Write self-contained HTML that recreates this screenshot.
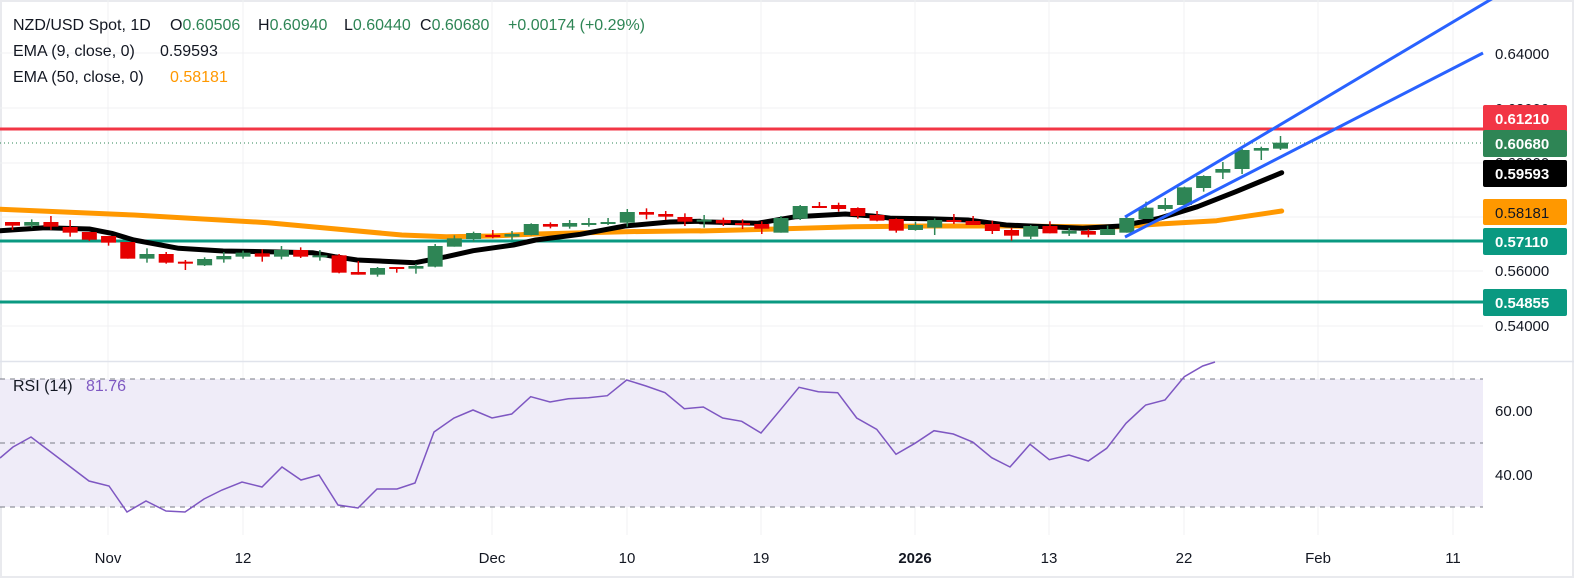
<!DOCTYPE html>
<html><head><meta charset="utf-8">
<style>
html,body{margin:0;padding:0;background:#fff;}
body{width:1574px;height:578px;overflow:hidden;font-family:"Liberation Sans",sans-serif;}
svg text{font-family:"Liberation Sans",sans-serif;}
</style></head>
<body>
<svg id="s" width="1574" height="578" xmlns="http://www.w3.org/2000/svg">
<rect x="0" y="0" width="1574" height="578" fill="#fff"/>
<rect x="0.5" y="0.5" width="1573" height="577" fill="none" stroke="#e9eaee" stroke-width="3"/>
<g id="grid" stroke="#f0f1f3" stroke-width="1"></g>
<rect x="0" y="379" width="1483" height="128" fill="#efecf8"/>
<g stroke="#787b86" stroke-width="1" stroke-dasharray="5,5">
<line x1="0" y1="379" x2="1483" y2="379"/>
<line x1="0" y1="443" x2="1483" y2="443"/>
<line x1="0" y1="507" x2="1483" y2="507"/>
</g>
<line x1="0" y1="361.5" x2="1574" y2="361.5" stroke="#e0e3eb" stroke-width="1.5"/>
<line x1="0" y1="143" x2="1483" y2="143" stroke="#2e8555" stroke-width="1" stroke-dasharray="1,3"/>
<line x1="0" y1="129" x2="1483" y2="129" stroke="#f23645" stroke-width="3"/>
<line x1="0" y1="241" x2="1483" y2="241" stroke="#0a9981" stroke-width="3"/>
<line x1="0" y1="302" x2="1483" y2="302" stroke="#0a9981" stroke-width="3"/>
<g id="ema"></g>
<g id="candles"></g>
<line x1="1125" y1="217" x2="1500" y2="-6" stroke="#2962ff" stroke-width="3"/>
<line x1="1125" y1="237" x2="1483" y2="53" stroke="#2962ff" stroke-width="3"/>
<g id="rsi"></g>
<g font-size="16" fill="#131722">
<text x="13" y="30">NZD/USD Spot, 1D</text>
<text x="170" y="30">O<tspan fill="#2e8555">0.60506</tspan></text>
<text x="258" y="30">H<tspan fill="#2e8555">0.60940</tspan></text>
<text x="344" y="30">L<tspan fill="#2e8555">0.60440</tspan></text>
<text x="420" y="30">C<tspan fill="#2e8555">0.60680</tspan></text>
<text x="508" y="30" fill="#2e8555">+0.00174 (+0.29%)</text>
<text x="13" y="56">EMA (9, close, 0)</text>
<text x="160" y="56">0.59593</text>
<text x="13" y="82">EMA (50, close, 0)</text>
<text x="170" y="82" fill="#ff9800">0.58181</text>
<text x="13" y="391">RSI (14)</text>
<text x="86" y="391" fill="#7e57c2">81.76</text>
</g>
<g font-size="15" fill="#131722">
<text x="1495" y="59">0.64000</text>
<text x="1495" y="114">0.62000</text>
<text x="1495" y="168">0.60000</text>
<text x="1495" y="276">0.56000</text>
<text x="1495" y="331">0.54000</text>
<text x="1495" y="416">60.00</text>
<text x="1495" y="480">40.00</text>
</g>
<g font-size="15" font-weight="bold">
<rect x="1483" y="105" width="84" height="27" rx="2" fill="#f23645"/><text x="1495" y="124" fill="#fff">0.61210</text>
<rect x="1483" y="130" width="84" height="27" rx="2" fill="#2e8555"/><text x="1495" y="149" fill="#fff">0.60680</text>
<rect x="1483" y="160" width="84" height="27" rx="2" fill="#000"/><text x="1495" y="179" fill="#fff">0.59593</text>
<rect x="1483" y="199" width="84" height="26" rx="2" fill="#ff9800"/><text x="1495" y="218" fill="#131722" font-weight="normal">0.58181</text>
<rect x="1483" y="228" width="84" height="27" rx="2" fill="#0a9981"/><text x="1495" y="247" fill="#fff">0.57110</text>
<rect x="1483" y="289" width="84" height="27" rx="2" fill="#0a9981"/><text x="1495" y="308" fill="#fff">0.54855</text>
</g>
<g id="dates" font-size="15" fill="#131722" text-anchor="middle"></g>
</svg>
<script>
var NS="http://www.w3.org/2000/svg";
function el(p,t,a){var e=document.createElementNS(NS,t);for(var k in a)e.setAttribute(k,a[k]);p.appendChild(e);return e;}
var grid=document.getElementById('grid');
[53,108,163,217,271,326,411,475].forEach(function(y){el(grid,'line',{x1:0,y1:y,x2:1483,y2:y});});
var vx=[108,243,492,627,761,915,1049,1184,1318,1453];
var dl=["Nov","12","Dec","10","19","2026","13","22","Feb","11"];
var dates=document.getElementById('dates');
vx.forEach(function(x,i){el(grid,'line',{x1:x,y1:0,x2:x,y2:535});var t=el(dates,'text',{x:x,y:563});t.textContent=dl[i];if(dl[i]=="2026")t.setAttribute('font-weight','bold');});
var z1=[[126,137,126,150,'r'],[126,137,118,143,'g'],[126,140,108,150,'r'],[141,158,120,170,'r'],[156,179,156,183,'r'],[168,188,168,197,'r'],[186,236,186,236,'r'],[222,236,205,248,'g'],[222,248,216,251,'r'],[245,247,240,270,'r'],[237,256,232,258,'g'],[228,238,216,248,'g'],[218,230,212,236,'g'],[220,230,208,245,'r'],[210,230,198,238,'g'],[210,230,202,234,'r'],[226,229,210,242,'g'],[226,278,222,280,'r'],[276,284,243,284,'r'],[264,284,261,290,'g'],[261,263,262,278,'r'],[258,266,252,281,'g'],[198,260,192,262,'g'],[175,200,166,200,'g'],[159,177,155,185,'g'],[165,171,150,175,'r'],[162,170,153,180,'g'],[132,165,130,166,'g'],[132,140,127,145,'r'],[129,140,120,146,'g'],[129,134,114,140,'g'],[126,128,114,135,'g'],[96,128,87,140,'g'],[96,104,85,118,'r'],[102,110,93,120,'r'],[111,125,100,138,'r']];
var z2=[[359,361,345,383,'g'],[360,370,353,378,'r'],[369,371,358,387,'r'],[372,386,364,402,'r'],[354,398,348,398,'g'],[318,356,315,360,'g'],[318,323,306,323,'r'],[315,327,308,335,'r'],[324,348,322,356,'r'],[345,362,333,364,'r'],[357,392,355,398,'r'],[375,390,365,392,'g'],[360,383,355,405,'g'],[360,366,342,372,'r'],[363,375,348,375,'r'],[372,393,362,402,'r'],[390,407,384,422,'r'],[378,410,375,417,'g'],[378,400,364,400,'r'],[392,401,384,408,'g'],[393,404,388,412,'r'],[387,405,377,405,'g'],[354,398,352,398,'g'],[323,357,305,357,'g'],[315,327,294,332,'g'],[262,315,260,317,'g'],[228,264,226,275,'g'],[207,218,186,237,'g'],[150,207,147,222,'g'],[144,152,140,180,'g'],[128,146,108,150,'g']];
var C=document.getElementById('candles');
var step=(1280.5-12.5)/66;
function drawC(arr,off,o){arr.forEach(function(c,j){var i=j+off;var x=12.5+i*step;var col=c[4]=='g'?'#2e8555':'#e60000';
var bt=o+c[0]/3,bb=o+c[1]/3,wt=o+c[2]/3,wb=o+c[3]/3;if(bb-bt<2){bb=bt+2;}
el(C,'line',{x1:x,y1:wt,x2:x,y2:wb,stroke:col,'stroke-width':1.5});
el(C,'rect',{x:x-7.5,y:bt,width:15,height:bb-bt,fill:col});});}
drawC(z1,0,180);drawC(z2,36,100);
function pts(a,fx,ox,oy){return a.map(function(p){return (ox+p[0]/fx).toFixed(1)+','+(oy+p[1]/3).toFixed(1);});}
var E=document.getElementById('ema');
var o1=pts([[0,88],[300,105],[600,128],[900,165],[1000,170],[1100,168],[1200,162],[1400,155],[1568,152]],2.24,0,180).concat(pts([[0,393],[200,387],[400,380],[600,378],[800,378],[1000,380],[1100,380],[1200,372],[1350,362],[1520,333]],2.613,700,100));
var b1=pts([[0,152],[100,143],[200,147],[250,160],[300,180],[400,205],[500,213],[600,215],[700,218],[750,230],[800,240],[930,248],[1000,230],[1060,212],[1150,195],[1200,180],[1300,163],[1400,138],[1500,126],[1568,124]],2.24,0,180).concat(pts([[0,365],[150,370],[250,350],[380,342],[450,348],[500,355],[600,356],[700,360],[800,375],[1000,385],[1100,378],[1200,355],[1300,320],[1400,275],[1520,218]],2.613,700,100));
el(E,'polyline',{points:o1.join(' '),fill:'none',stroke:'#ff9800','stroke-width':5,'stroke-linejoin':'round','stroke-linecap':'round'});
el(E,'polyline',{points:b1.join(' '),fill:'none',stroke:'#000','stroke-width':5,'stroke-linejoin':'round','stroke-linecap':'round'});
var r=[[0,458],[13,447],[31,437],[89,481],[109,486],[127,512],[146,501],[166,511],[185,512],[204,499],[222,490],[242,482],[262,487],[282,467],[301,480],[319,475],[338,505],[358,508],[377,489],[397,489],[415,483],[434,432],[454,418],[473,410],[492,418]];
[[35,252],[92,200],[150,216],[205,206],[265,203],[322,197],[380,150],[438,168],[495,188],[553,236],[610,231],[668,264],[725,274],[783,309],[840,241],[897,172],[955,185],[1013,188],[1070,264],[1130,298],[1188,373],[1245,340],[1302,302],[1360,312],[1418,336],[1475,383],[1530,411]].forEach(function(p){r.push([500+p[0]/3,330+p[1]/3]);});
[[90,343],[148,389],[207,375],[265,393],[320,355],[378,280],[437,225],[495,210],[553,140],[608,108],[645,96]].forEach(function(p){r.push([1000+p[0]/3,330+p[1]/3]);});
el(document.getElementById('rsi'),'polyline',{points:r.map(function(p){return p[0].toFixed(1)+','+p[1].toFixed(1);}).join(' '),fill:'none',stroke:'#7e57c2','stroke-width':1.5});
</script>
</body></html>
